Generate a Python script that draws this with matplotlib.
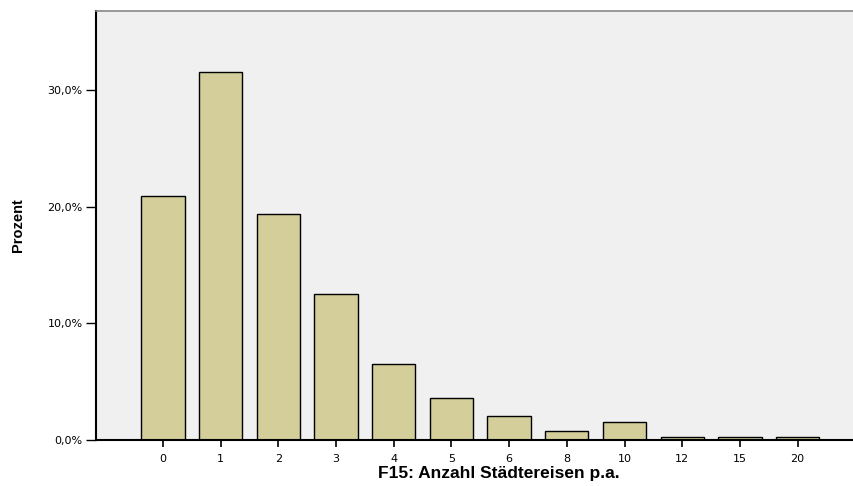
import matplotlib
matplotlib.use("Agg")
import matplotlib.pyplot as plt
from matplotlib.ticker import FuncFormatter

categories = ["0", "1", "2", "3", "4", "5", "6", "8", "10", "12", "15", "20"]
percent = [20.9, 31.6, 19.4, 12.5, 6.5, 3.6, 2.06, 0.77, 1.54, 0.26, 0.26, 0.26]
yticks = [0, 10, 20, 30]

plt.rcParams['font.family'] = ['DejaVu Sans']

fig = plt.figure(figsize=(8.54, 4.86), dpi=100)
ax = fig.add_axes([96/854, 46/486, 757/854, 429/486])
ax.set_facecolor('#f0f0f0')

x = list(range(len(categories)))
ax.bar(x, percent, width=0.75, color='#d3ce9a', edgecolor='black', linewidth=1.0, zorder=2)

ax.set_xlim(-1.16, 11.96)
ax.set_ylim(0, 36.8)
ax.set_xticks(x)
ax.set_xticklabels(categories, fontsize=8)
ax.set_yticks(yticks)
ax.yaxis.set_major_formatter(FuncFormatter(lambda v, p: f"{v:.1f}%".replace('.', ',')))
ax.tick_params(axis='y', labelsize=8, length=7.5, width=1, direction='out', pad=2)
ax.tick_params(axis='x', labelsize=8, length=5, width=1.2, direction='out', pad=5)

for s in ['left', 'bottom']:
    ax.spines[s].set_linewidth(1.5)
    ax.spines[s].set_color('black')
ax.spines['top'].set_color('#888888')
ax.spines['top'].set_linewidth(1.2)
ax.spines['right'].set_visible(False)

ax.set_ylabel('Prozent', fontsize=10.5, fontweight='bold', family='Liberation Sans')
ax.yaxis.set_label_coords(-0.094, 0.5)
ax.set_xlabel('F15: Anzahl Städtereisen p.a.', fontsize=12.5, fontweight='bold', family='Liberation Sans')
ax.xaxis.set_label_coords(0.532, -0.06)

fig.savefig('out.png', dpi=100)
